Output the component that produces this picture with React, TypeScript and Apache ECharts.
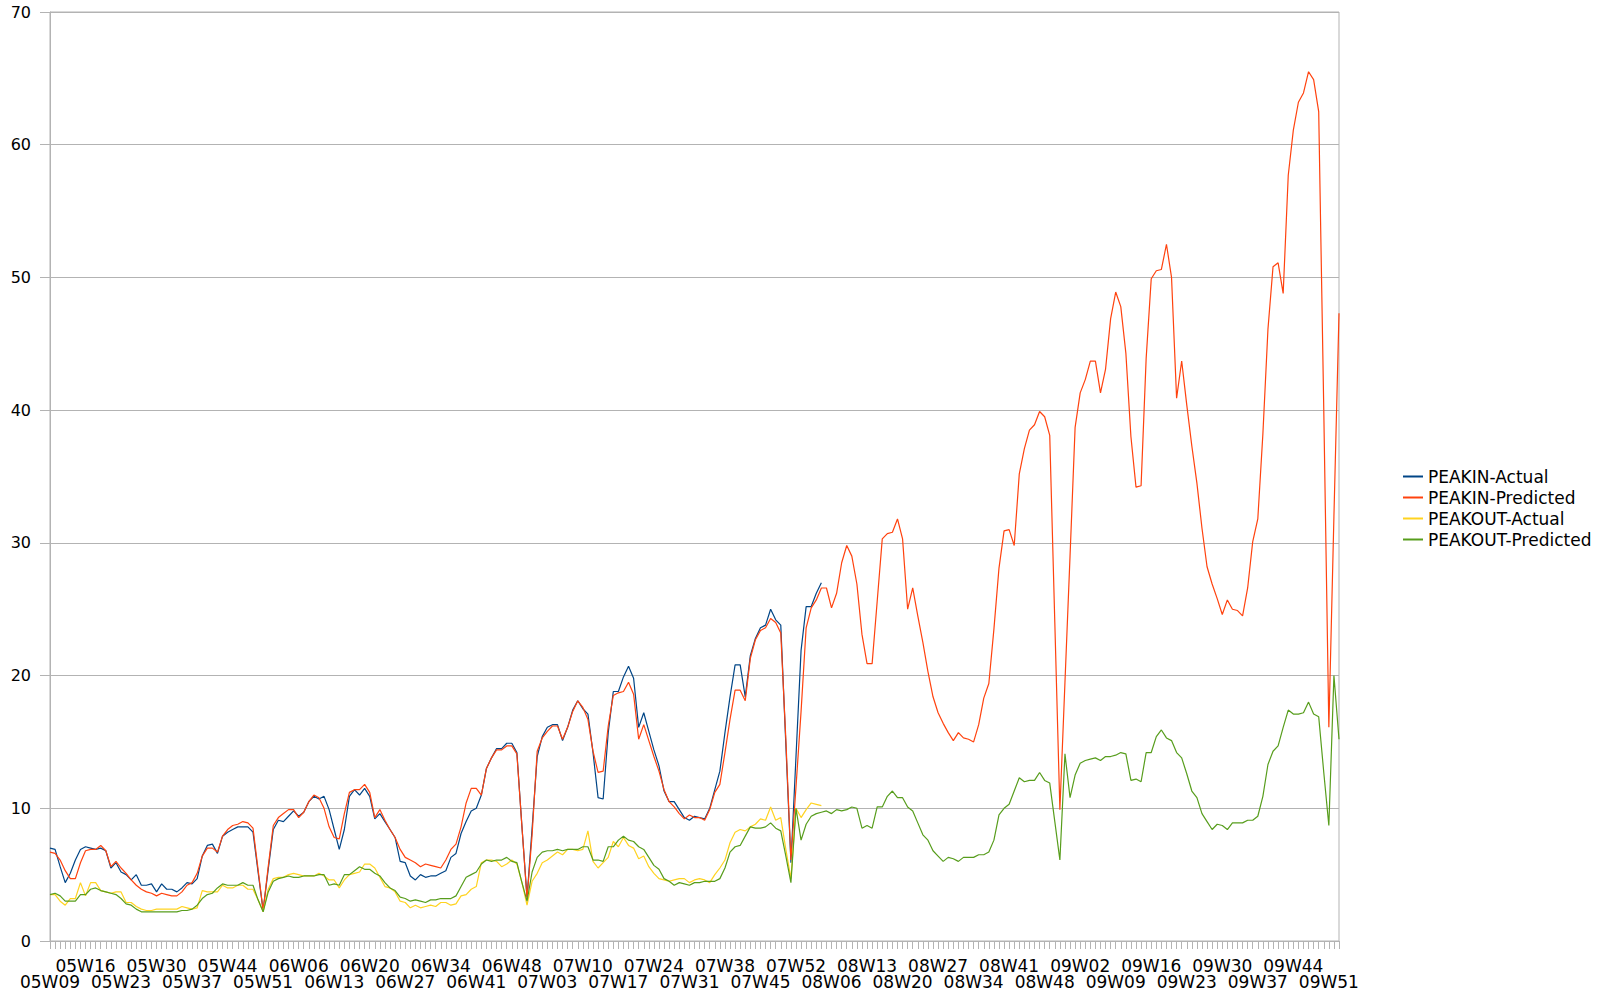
import React, { useEffect, useRef } from "react";
import * as echarts from "echarts";

// [year (2-digit), first week, last week]
const YEAR_WEEKS: [number, number, number][] = [
  [5, 9, 52],
  [6, 1, 52],
  [7, 1, 53],
  [8, 1, 53],
  [9, 1, 53],
];

const categories: string[] = [];
for (const [yy, w0, w1] of YEAR_WEEKS) {
  for (let w = w0; w <= w1; w++) {
    categories.push(`0${yy}W${String(w).padStart(2, "0")}`);
  }
}

const yTicks = [0, 10, 20, 30, 40, 50, 60, 70];

const peakInActual = [
  7.0, 6.9, 5.6, 4.4, 5.1, 6.1, 6.9, 7.1, 7.0, 6.9,
  7.0, 6.8, 5.5, 5.9, 5.2, 5.0, 4.6, 5.0, 4.2, 4.2,
  4.3, 3.7, 4.3, 3.9, 3.9, 3.7, 4.0, 4.4, 4.3, 4.7,
  6.4, 7.2, 7.3, 6.6, 7.9, 8.2, 8.4, 8.6, 8.6, 8.6,
  8.2, 5.2, 2.3, 5.4, 8.4, 9.1, 9.0, 9.4, 9.8, 9.4,
  9.7, 10.5, 10.9, 10.7, 10.9, 9.9, 8.4, 6.9, 8.4, 10.9,
  11.4, 11.0, 11.5, 10.9, 9.2, 9.6, 9.0, 8.4, 7.8, 6.0,
  5.9, 4.9, 4.6, 5.0, 4.8, 4.9, 4.9, 5.1, 5.3, 6.3,
  6.6, 8.1, 9.0, 9.8, 10.0, 11.0, 13.0, 13.8, 14.5, 14.5,
  14.9, 14.9, 14.2, 8.6, 3.3, 8.5, 13.9, 15.4, 16.1, 16.3,
  16.3, 15.1, 16.1, 17.4, 18.1, 17.5, 17.1, 14.2, 10.8, 10.7,
  15.7, 18.8, 18.8, 19.9, 20.7, 19.8, 16.1, 17.2, 15.8, 14.4,
  13.2, 11.3, 10.5, 10.5, 9.9, 9.3, 9.1, 9.4, 9.3, 9.2,
  10.0, 11.4, 12.8, 15.7, 18.4, 20.8, 20.8, 18.4, 21.5, 22.8,
  23.6, 23.8, 25.0, 24.2, 23.8, 14.8, 5.9, 13.9, 21.9, 25.2,
  25.2, 26.2, 27.0,
];

const peakInPredicted = [
  6.7, 6.6, 6.1, 5.3, 4.7, 4.7, 5.9, 6.8, 6.9, 6.9,
  7.2, 6.8, 5.6, 6.0, 5.5, 5.1, 4.6, 4.2, 3.9, 3.7,
  3.6, 3.4, 3.6, 3.5, 3.4, 3.4, 3.7, 4.2, 4.4, 5.1,
  6.4, 7.0, 7.0, 6.7, 7.9, 8.4, 8.7, 8.8, 9.0, 8.9,
  8.5, 5.4, 2.3, 5.6, 8.7, 9.3, 9.6, 9.9, 9.9, 9.3,
  9.7, 10.5, 11.0, 10.8, 10.0, 8.6, 7.8, 7.7, 9.6, 11.2,
  11.4, 11.4, 11.8, 11.2, 9.3, 9.9, 9.1, 8.4, 7.8, 6.9,
  6.3, 6.1, 5.9, 5.6, 5.8, 5.7, 5.6, 5.5, 6.1, 6.9,
  7.3, 8.6, 10.4, 11.5, 11.5, 11.0, 13.0, 13.8, 14.4, 14.4,
  14.7, 14.7, 14.1, 8.6, 3.2, 8.0, 14.3, 15.3, 15.8, 16.2,
  16.2, 15.2, 16.1, 17.3, 18.1, 17.6, 16.7, 14.3, 12.7, 12.8,
  16.2, 18.5, 18.7, 18.8, 19.5, 18.6, 15.2, 16.3, 15.1, 13.9,
  12.8, 11.4, 10.5, 10.1, 9.6, 9.2, 9.5, 9.3, 9.3, 9.1,
  9.9, 11.2, 11.8, 14.2, 16.7, 18.9, 18.9, 18.1, 21.3, 22.7,
  23.4, 23.6, 24.3, 24.0, 23.2, 15.2, 6.1, 11.6, 17.3, 23.6,
  25.1, 25.7, 26.6, 26.6, 25.1, 26.2, 28.5, 29.8, 29.0, 26.9,
  23.1, 20.9, 20.9, 25.6, 30.3, 30.7, 30.8, 31.8, 30.3, 25.0,
  26.6, 24.5, 22.5, 20.3, 18.4, 17.2, 16.4, 15.7, 15.1, 15.7,
  15.3, 15.2, 15.0, 16.3, 18.3, 19.4, 23.5, 28.1, 30.9, 31.0,
  29.8, 35.2, 37.1, 38.5, 38.9, 39.9, 39.5, 38.1, 24.0, 9.9,
  19.5, 29.0, 38.7, 41.3, 42.3, 43.7, 43.7, 41.3, 43.1, 46.9,
  48.9, 47.8, 44.3, 38.0, 34.2, 34.3, 43.9, 49.9, 50.5, 50.6,
  52.5, 50.0, 40.9, 43.7, 40.4, 37.3, 34.5, 31.1, 28.2, 26.9,
  25.8, 24.6, 25.7, 25.0, 24.9, 24.5, 26.6, 30.1, 31.8, 38.2,
  46.1, 50.8, 51.1, 48.8, 57.7, 61.1, 63.2, 63.9, 65.5, 64.9,
  62.5, 40.0, 16.1, 32.0, 47.3,
];

const peakOutActual = [
  3.5, 3.5, 3.0, 2.7, 3.2, 3.2, 4.4, 3.4, 4.4, 4.4,
  3.8, 3.7, 3.6, 3.7, 3.7, 2.9, 2.9, 2.6, 2.4, 2.3,
  2.3, 2.4, 2.4, 2.4, 2.4, 2.4, 2.6, 2.5, 2.4, 2.5,
  3.8, 3.7, 3.7, 3.7, 4.2, 4.0, 4.0, 4.2, 4.2, 3.9,
  3.9, 3.1, 2.2, 3.9, 4.7, 4.8, 4.8, 5.0, 5.1, 5.0,
  4.9, 4.9, 4.9, 5.1, 4.9, 4.6, 4.6, 4.0, 4.6, 5.0,
  5.1, 5.2, 5.8, 5.8, 5.5, 4.8, 4.1, 4.0, 3.7, 3.0,
  2.9, 2.5, 2.7, 2.5, 2.6, 2.7, 2.6, 2.9, 2.9, 2.7,
  2.8, 3.4, 3.5, 3.9, 4.1, 5.9, 6.1, 6.1, 6.0, 5.6,
  5.8, 6.1, 5.8, 4.4, 2.7, 4.5, 5.1, 5.9, 6.1, 6.4,
  6.7, 6.5, 6.9, 6.9, 6.8, 6.9, 8.3, 6.0, 5.5, 5.9,
  6.3, 7.5, 7.1, 7.8, 7.2, 7.0, 6.2, 6.4, 5.6, 5.1,
  4.7, 4.6, 4.5, 4.6, 4.7, 4.7, 4.4, 4.6, 4.7, 4.6,
  4.4, 5.0, 5.5, 6.1, 7.4, 8.2, 8.4, 8.3, 8.6, 8.8,
  9.2, 9.1, 10.1, 9.1, 9.3, 6.9, 4.7, 10.0, 9.3, 9.9,
  10.4, 10.3, 10.2,
];

const peakOutPredicted = [
  3.5, 3.6, 3.4, 3.0, 3.0, 3.0, 3.5, 3.5, 3.9, 4.0,
  3.8, 3.7, 3.6, 3.5, 3.2, 2.8, 2.7, 2.4, 2.2, 2.2,
  2.2, 2.2, 2.2, 2.2, 2.2, 2.2, 2.3, 2.3, 2.4, 2.7,
  3.2, 3.5, 3.6, 4.0, 4.3, 4.2, 4.2, 4.2, 4.4, 4.2,
  4.2, 3.1, 2.2, 3.7, 4.5, 4.7, 4.8, 4.9, 4.8, 4.8,
  4.9, 4.9, 4.9, 5.0, 5.0, 4.2, 4.3, 4.2, 5.0, 5.0,
  5.3, 5.6, 5.4, 5.4, 5.1, 4.9, 4.4, 4.0, 3.8, 3.3,
  3.2, 3.0, 3.1, 3.0, 2.9, 3.1, 3.1, 3.2, 3.2, 3.2,
  3.4, 4.1, 4.8, 5.0, 5.2, 5.8, 6.1, 6.0, 6.1, 6.1,
  6.3, 6.0, 5.9, 4.4, 3.0, 5.2, 6.3, 6.7, 6.8, 6.8,
  6.9, 6.8, 6.9, 6.9, 6.9, 7.1, 7.1, 6.1, 6.1, 6.0,
  7.1, 7.1, 7.6, 7.9, 7.6, 7.5, 7.1, 6.9, 6.3, 5.7,
  5.4, 4.7, 4.5, 4.2, 4.4, 4.3, 4.2, 4.4, 4.4, 4.5,
  4.5, 4.5, 4.7, 5.5, 6.7, 7.1, 7.2, 7.9, 8.6, 8.5,
  8.5, 8.6, 8.9, 8.5, 8.3, 6.4, 4.4, 10.0, 7.6, 8.8,
  9.4, 9.6, 9.7, 9.8, 9.6, 9.9, 9.8, 9.9, 10.1, 10.0,
  8.5, 8.7, 8.5, 10.1, 10.1, 10.9, 11.3, 10.8, 10.8, 10.1,
  9.8, 8.9, 8.0, 7.6, 6.8, 6.4, 6.0, 6.3, 6.2, 6.0,
  6.3, 6.3, 6.3, 6.5, 6.5, 6.7, 7.6, 9.5, 10.0, 10.3,
  11.3, 12.3, 12.0, 12.1, 12.1, 12.7, 12.1, 11.9, 9.0, 6.1,
  14.1, 10.8, 12.5, 13.4, 13.6, 13.7, 13.8, 13.6, 13.9, 13.9,
  14.0, 14.2, 14.1, 12.1, 12.2, 12.0, 14.2, 14.2, 15.4, 15.9,
  15.3, 15.1, 14.2, 13.8, 12.6, 11.3, 10.8, 9.6, 9.0, 8.4,
  8.8, 8.7, 8.4, 8.9, 8.9, 8.9, 9.1, 9.1, 9.4, 10.9,
  13.3, 14.3, 14.7, 16.1, 17.4, 17.1, 17.1, 17.2, 18.0, 17.1,
  16.9, 12.7, 8.7, 20.0, 15.2,
];

const seriesNames = ["PEAKIN-Actual", "PEAKIN-Predicted", "PEAKOUT-Actual", "PEAKOUT-Predicted"];
const seriesColors = ["#004586", "#ff420e", "#ffd320", "#579d1c"];
const seriesData = [peakInActual, peakInPredicted, peakOutActual, peakOutPredicted];

const FONT = "DejaVu Sans";
const GRAY = "#b3b3b3";
const LABEL_STEP = 7;

export default function App() {
  const ref = useRef<HTMLDivElement>(null);

  useEffect(() => {
    if (!ref.current) return;
    const chart = echarts.init(ref.current, null, { renderer: "svg" });
    chart.setOption({
      animation: false,
      backgroundColor: "#ffffff",
      grid: {
        left: 50,
        top: 12,
        right: 271,
        bottom: 52,
        show: true,
        borderColor: GRAY,
        borderWidth: 1,
        backgroundColor: "transparent",
        outerBoundsMode: "none",
        containLabel: false,
      },
      legend: {
        orient: "vertical",
        left: 1403,
        top: 468,
        padding: 0,
        itemWidth: 20,
        itemHeight: 2,
        itemGap: 4,
        icon: "rect",
        textStyle: { fontFamily: FONT, fontSize: 17, color: "#000", lineHeight: 16 },
        data: seriesNames,
      },
      xAxis: {
        type: "category",
        data: categories,
        boundaryGap: false,
        axisLine: { show: true, lineStyle: { color: GRAY, width: 1 } },
        axisTick: { show: true, interval: 0, length: 8, lineStyle: { color: GRAY } },
        splitLine: { show: false },
        axisLabel: {
          interval: 0,
          hideOverlap: false,
          margin: 17,
          fontFamily: FONT,
          fontSize: 17,
          lineHeight: 16.3,
          color: "#000",
          formatter: (value: string, index: number) => {
            if (index % LABEL_STEP !== 0 || index > 252) return "";
            const k = index / LABEL_STEP;
            return k % 2 === 0 ? " \n" + value : value + "\n ";
          },
        },
      },
      yAxis: {
        type: "value",
        min: 0,
        max: 70,
        interval: 10,
        axisLine: { show: true, lineStyle: { color: GRAY, width: 1 } },
        axisTick: { show: true, length: 10, lineStyle: { color: GRAY } },
        splitLine: { show: true, lineStyle: { color: GRAY, width: 1 } },
        axisLabel: {
          margin: 19,
          fontFamily: FONT,
          fontSize: 16,
          color: "#000",
          showMinLabel: true,
          showMaxLabel: true,
          formatter: (v: number) => (yTicks.includes(v) ? String(v) : ""),
        },
      },
      series: seriesNames.map((name, i) => ({
        name,
        type: "line",
        data: seriesData[i],
        showSymbol: false,
        symbol: "none",
        lineStyle: { color: seriesColors[i], width: 1.2 },
        itemStyle: { color: seriesColors[i] },
        emphasis: { disabled: true },
      })),
    });
    return () => chart.dispose();
  }, []);

  return (
    <div
      ref={ref}
      style={{ position: "fixed", left: 0, top: 0, width: 1610, height: 993, background: "#fff" }}
    />
  );
}
